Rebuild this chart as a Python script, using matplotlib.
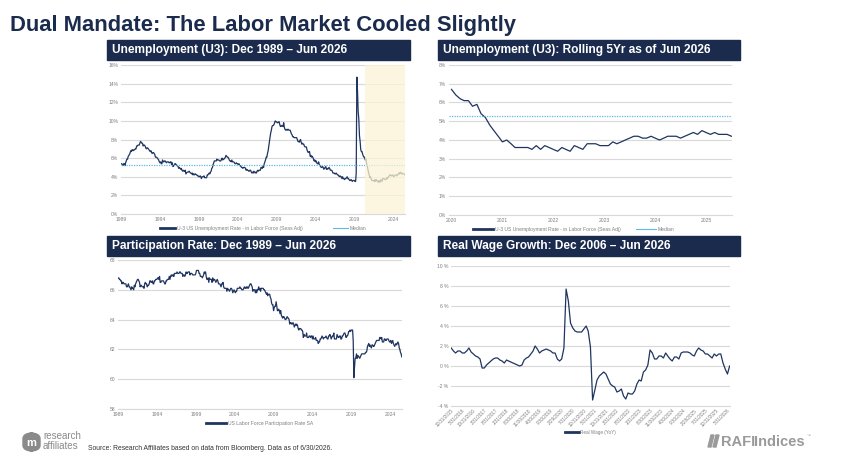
import matplotlib
matplotlib.use("Agg")
import matplotlib.pyplot as plt
from matplotlib.patches import Rectangle, FancyBboxPatch, Polygon
import numpy as np
import pandas as pd

# ---------------- data ----------------
# U-3 unemployment rate, monthly, Dec 1989 .. Jun 2026 (%)
u3_rate = [5.4,
    5.4, 5.3, 5.2, 5.4, 5.4, 5.2, 5.5, 5.7, 5.9, 5.9, 6.2, 6.3,   # 1990
    6.4, 6.6, 6.8, 6.7, 6.9, 6.9, 6.8, 6.9, 6.9, 7.0, 7.0, 7.3,   # 1991
    7.3, 7.4, 7.4, 7.4, 7.6, 7.8, 7.7, 7.6, 7.6, 7.3, 7.4, 7.4,   # 1992
    7.3, 7.1, 7.0, 7.1, 7.1, 7.0, 6.9, 6.8, 6.7, 6.8, 6.6, 6.5,   # 1993
    6.6, 6.6, 6.5, 6.4, 6.1, 6.1, 6.1, 6.0, 5.9, 5.8, 5.6, 5.5,   # 1994
    5.6, 5.4, 5.4, 5.8, 5.6, 5.6, 5.7, 5.7, 5.6, 5.5, 5.6, 5.6,   # 1995
    5.6, 5.5, 5.5, 5.6, 5.6, 5.3, 5.5, 5.1, 5.2, 5.2, 5.4, 5.4,   # 1996
    5.3, 5.2, 5.2, 5.1, 4.9, 5.0, 4.9, 4.8, 4.9, 4.7, 4.6, 4.7,   # 1997
    4.6, 4.6, 4.7, 4.3, 4.4, 4.5, 4.5, 4.5, 4.6, 4.5, 4.4, 4.4,   # 1998
    4.3, 4.4, 4.2, 4.3, 4.2, 4.3, 4.3, 4.2, 4.2, 4.1, 4.1, 4.0,   # 1999
    4.0, 4.1, 4.0, 3.8, 4.0, 4.0, 4.0, 4.1, 3.9, 3.9, 3.9, 3.9,   # 2000
    4.2, 4.2, 4.3, 4.4, 4.3, 4.5, 4.6, 4.9, 5.0, 5.3, 5.5, 5.7,   # 2001
    5.7, 5.7, 5.7, 5.9, 5.8, 5.8, 5.8, 5.7, 5.7, 5.7, 5.9, 6.0,   # 2002
    5.8, 5.9, 5.9, 6.0, 6.1, 6.3, 6.2, 6.1, 6.1, 6.0, 5.8, 5.7,   # 2003
    5.7, 5.6, 5.8, 5.6, 5.6, 5.6, 5.5, 5.4, 5.4, 5.5, 5.4, 5.4,   # 2004
    5.3, 5.4, 5.2, 5.2, 5.1, 5.0, 5.0, 4.9, 5.0, 5.0, 5.0, 4.9,   # 2005
    4.7, 4.8, 4.7, 4.7, 4.6, 4.6, 4.7, 4.7, 4.5, 4.4, 4.5, 4.4,   # 2006
    4.6, 4.5, 4.4, 4.5, 4.4, 4.6, 4.7, 4.6, 4.7, 4.7, 4.7, 5.0,   # 2007
    5.0, 4.9, 5.1, 5.0, 5.4, 5.6, 5.8, 6.1, 6.1, 6.5, 6.8, 7.3,   # 2008
    7.8, 8.3, 8.7, 9.0, 9.4, 9.5, 9.5, 9.6, 9.8, 10.0, 9.9, 9.9,  # 2009
    9.8, 9.8, 9.9, 9.9, 9.6, 9.4, 9.4, 9.5, 9.5, 9.4, 9.8, 9.3,   # 2010
    9.1, 9.0, 9.0, 9.1, 9.0, 9.1, 9.0, 9.0, 9.0, 8.8, 8.6, 8.5,   # 2011
    8.3, 8.3, 8.2, 8.2, 8.2, 8.2, 8.2, 8.0, 7.8, 7.8, 7.7, 7.9,   # 2012
    8.0, 7.7, 7.5, 7.6, 7.5, 7.5, 7.3, 7.2, 7.2, 7.2, 6.9, 6.7,   # 2013
    6.6, 6.7, 6.7, 6.2, 6.3, 6.1, 6.2, 6.1, 5.9, 5.7, 5.8, 5.6,   # 2014
    5.7, 5.5, 5.4, 5.4, 5.6, 5.3, 5.2, 5.1, 5.0, 5.0, 5.1, 5.0,   # 2015
    4.8, 4.9, 5.0, 5.1, 4.8, 4.9, 4.8, 4.9, 5.0, 4.9, 4.7, 4.7,   # 2016
    4.7, 4.6, 4.4, 4.4, 4.4, 4.3, 4.3, 4.4, 4.3, 4.2, 4.2, 4.1,   # 2017
    4.0, 4.1, 4.0, 4.0, 3.8, 4.0, 3.8, 3.8, 3.7, 3.8, 3.8, 3.9,   # 2018
    4.0, 3.8, 3.8, 3.7, 3.6, 3.6, 3.7, 3.6, 3.5, 3.6, 3.6, 3.6,   # 2019
    3.5, 3.5, 4.4, 14.7, 13.2, 11.0, 10.2, 8.4, 7.8, 6.9, 6.7, 6.7,  # 2020
    6.4, 6.2, 6.1, 6.1, 5.8, 5.9, 5.4, 5.2, 4.8, 4.5, 4.2, 3.9,   # 2021
    4.0, 3.8, 3.6, 3.6, 3.6, 3.6, 3.5, 3.7, 3.5, 3.7, 3.6, 3.5,   # 2022
    3.4, 3.6, 3.5, 3.4, 3.7, 3.6, 3.5, 3.8, 3.8, 3.8, 3.7, 3.7,   # 2023
    3.7, 3.9, 3.8, 3.9, 4.0, 4.1, 4.2, 4.2, 4.1, 4.1, 4.2, 4.1,   # 2024
    4.0, 4.1, 4.2, 4.2, 4.2, 4.1, 4.2, 4.3, 4.4, 4.3, 4.5, 4.4,   # 2025
    4.3, 4.4, 4.3, 4.3, 4.3, 4.2]                                # 2026
u3_median = 5.3
u3_start = "1989-12-01"
shade_start = "2021-05-01"
rolling_start = "2020-12-01"
u3_years = ["1989", "1994", "1999", "2004", "2009", "2014", "2019", "2024"]
rolling_years = ["2020", "2021", "2022", "2023", "2024", "2025"]
u3_yticks = [0, 2, 4, 6, 8, 10, 12, 14, 16]
rolling_yticks = [0, 1, 2, 3, 4, 5, 6, 7, 8]

# Labor force participation rate, monthly, Dec 1989 .. Jun 2026
lfpr = [66.8,
    66.8, 66.7, 66.7, 66.6, 66.6, 66.4, 66.5, 66.5, 66.4, 66.4, 66.4, 66.4,  # 1990
    66.2, 66.2, 66.3, 66.4, 66.2, 66.2, 66.1, 66.0, 66.2, 66.1, 66.1, 66.0,  # 1991
    66.3, 66.2, 66.4, 66.5, 66.6, 66.7, 66.7, 66.6, 66.5, 66.2, 66.3, 66.3,  # 1992
    66.2, 66.2, 66.2, 66.1, 66.4, 66.5, 66.4, 66.4, 66.2, 66.3, 66.3, 66.4,  # 1993
    66.6, 66.6, 66.5, 66.5, 66.6, 66.4, 66.4, 66.6, 66.6, 66.7, 66.7, 66.7,  # 1994
    66.8, 66.8, 66.7, 66.9, 66.5, 66.5, 66.6, 66.6, 66.6, 66.6, 66.5, 66.4,  # 1995
    66.4, 66.6, 66.6, 66.7, 66.7, 66.7, 66.9, 66.7, 66.9, 67.0, 66.9, 67.0,  # 1996
    67.0, 66.9, 67.1, 67.1, 67.1, 67.1, 67.2, 67.1, 67.1, 67.1, 67.2, 67.2,  # 1997
    67.1, 67.1, 67.1, 66.9, 67.0, 67.0, 66.9, 67.0, 67.2, 67.1, 67.1, 67.2,  # 1998
    67.2, 67.2, 67.0, 67.1, 67.1, 67.1, 67.0, 67.0, 67.0, 67.0, 67.0, 67.1,  # 1999
    67.3, 67.3, 67.3, 67.3, 67.1, 67.1, 66.9, 66.9, 66.9, 66.8, 66.9, 67.0,  # 2000
    67.2, 67.1, 67.2, 66.9, 66.7, 66.7, 66.8, 66.5, 66.8, 66.7, 66.7, 66.7,  # 2001
    66.5, 66.8, 66.6, 66.7, 66.7, 66.6, 66.5, 66.6, 66.7, 66.6, 66.4, 66.4,  # 2002
    66.4, 66.3, 66.2, 66.4, 66.4, 66.5, 66.2, 66.1, 66.1, 66.1, 66.1, 65.9,  # 2003
    66.1, 66.0, 66.0, 65.9, 66.0, 66.1, 66.1, 66.0, 65.8, 65.9, 66.0, 65.9,  # 2004
    65.8, 65.9, 65.9, 66.1, 66.1, 66.1, 66.1, 66.2, 66.1, 66.1, 66.0, 66.0,  # 2005
    66.0, 66.1, 66.2, 66.1, 66.1, 66.2, 66.1, 66.2, 66.1, 66.2, 66.3, 66.4,  # 2006
    66.4, 66.3, 66.2, 65.9, 66.0, 66.0, 66.0, 65.8, 66.0, 65.8, 66.0, 66.0,  # 2007
    66.2, 66.0, 66.1, 65.9, 66.1, 66.1, 66.1, 66.1, 66.0, 66.0, 65.9, 65.8,  # 2008
    65.7, 65.8, 65.6, 65.7, 65.7, 65.7, 65.5, 65.4, 65.1, 65.0, 65.0, 64.6,  # 2009
    64.8, 64.9, 64.9, 65.2, 64.9, 64.6, 64.6, 64.7, 64.6, 64.4, 64.6, 64.3,  # 2010
    64.2, 64.1, 64.2, 64.2, 64.1, 64.0, 64.0, 64.1, 64.2, 64.1, 64.1, 64.0,  # 2011
    63.7, 63.8, 63.8, 63.7, 63.7, 63.8, 63.7, 63.5, 63.6, 63.7, 63.6, 63.7,  # 2012
    63.6, 63.4, 63.3, 63.4, 63.4, 63.4, 63.3, 63.3, 63.2, 62.8, 63.0, 62.9,  # 2013
    62.9, 62.9, 63.1, 62.8, 62.8, 62.8, 62.9, 62.9, 62.8, 62.9, 62.9, 62.7,  # 2014
    62.9, 62.7, 62.7, 62.7, 62.8, 62.6, 62.6, 62.6, 62.4, 62.5, 62.5, 62.7,  # 2015
    62.7, 62.8, 62.9, 62.8, 62.7, 62.8, 62.8, 62.8, 62.9, 62.8, 62.7, 62.7,  # 2016
    62.9, 62.9, 63.0, 62.9, 62.7, 62.8, 62.9, 62.9, 63.1, 62.7, 62.7, 62.7,  # 2017
    62.7, 63.0, 62.9, 62.8, 62.8, 62.9, 62.9, 62.7, 62.7, 62.9, 62.9, 63.0,  # 2018
    63.1, 63.1, 63.0, 62.8, 62.9, 62.9, 63.0, 63.2, 63.2, 63.3, 63.2, 63.3,  # 2019
    63.3, 63.3, 62.6, 60.1, 60.8, 61.4, 61.4, 61.7, 61.4, 61.6, 61.5, 61.5,  # 2020
    61.4, 61.5, 61.6, 61.7, 61.7, 61.7, 61.7, 61.7, 61.7, 61.8, 61.8, 61.9,  # 2021
    62.2, 62.3, 62.4, 62.2, 62.3, 62.2, 62.1, 62.3, 62.3, 62.2, 62.2, 62.3,  # 2022
    62.4, 62.5, 62.6, 62.6, 62.6, 62.6, 62.6, 62.8, 62.8, 62.7, 62.8, 62.5,  # 2023
    62.5, 62.5, 62.7, 62.7, 62.6, 62.6, 62.7, 62.7, 62.7, 62.6, 62.5, 62.5,  # 2024
    62.6, 62.4, 62.5, 62.6, 62.4, 62.3, 62.2, 62.3, 62.4, 62.3, 62.4, 62.5,  # 2025
    62.4, 62.1, 62.0, 61.8, 61.7, 61.5]                                      # 2026
lfpr_yticks = [58, 60, 62, 64, 66, 68]

# Real wage growth YoY (%), monthly, Dec 2015 .. Jun 2026
real_wage_start = "2015-12-31"
real_wage = [1.8, 1.5, 1.3, 1.5, 1.5, 1.3, 1.3, 1.5, 1.8, 1.4,
             1.2, 1.0, 0.9, 0.7, -0.2, -0.2, 0.1, 0.3, 0.5, 0.7,
             0.8, 0.8, 0.6, 0.5, 0.3, 0.6, 0.5, 0.4, 0.3, 0.2,
             0.1, 0.0, 0.1, 0.6, 0.8, 0.9, 1.2, 1.5, 2.0, 1.7,
             1.3, 1.5, 1.6, 1.7, 1.6, 1.5, 1.3, 1.3, 0.7, 0.5,
             0.7, 1.8, 7.7, 6.5, 4.3, 3.8, 3.5, 3.4, 3.4, 3.4,
             3.7, 4.0, 3.5, 1.9, -3.4, -2.4, -1.4, -1.0, -0.8, -0.6,
             -0.8, -1.3, -1.8, -2.0, -2.1, -2.6, -2.5, -2.3, -3.0, -3.3,
             -2.7, -2.8, -2.8, -2.5, -1.8, -1.4, -1.5, -0.6, -0.4, 0.1,
             1.6, 1.3, 0.7, 0.7, 1.0, 1.0, 0.8, 1.3, 1.0, 0.7,
             0.5, 0.9, 0.9, 0.7, 1.3, 1.4, 1.4, 1.4, 1.3, 1.1,
             1.0, 1.5, 1.8, 1.6, 1.5, 1.2, 1.2, 1.0, 0.8, 1.2,
             1.0, 1.2, 1.2, 0.3, -0.3, -0.8, 0.0]
real_wage_yticks = [-4, -2, 0, 2, 4, 6, 8, 10]

title = "Dual Mandate: The Labor Market Cooled Slightly"
panel_titles = ["Unemployment (U3): Dec 1989 \u2013 Jun 2026",
                "Unemployment (U3): Rolling 5Yr as of Jun 2026",
                "Participation Rate: Dec 1989 \u2013 Jun 2026",
                "Real Wage Growth: Dec 2006 \u2013 Jun 2026"]
legend_u3 = "U-3 US Unemployment Rate - in Labor Force (Seas Adj)"
legend_median = "Median"
legend_lfpr = "US Labor Force Participation Rate SA"
legend_wage = "Real Wage (YoY)"
source = "Source: Research Affiliates based on data from Bloomberg. Data as of 6/30/2026."

# ---------------- style ----------------
W, H = 846, 470
NAVY = "#1b2b4d"
LINE = "#1f3560"
GRID = "#d9d9d9"
TICKC = "#7f7f7f"
MEDC = "#5cbbe6"
SHADE = "#fcf4d6"
SANS = ["Liberation Sans", "DejaVu Sans"]
plt.rcParams["font.family"] = SANS

fig = plt.figure(figsize=(W / 100, H / 100), dpi=100)
fig.patch.set_facecolor("white")


def fx(px):
    return px / W


def fy(py):
    return 1 - py / H


def add_ax(l, t, r, b):
    return fig.add_axes([fx(l), fy(b), fx(r - l), (b - t) / H])


def style(ax):
    for s in ["top", "right", "left"]:
        ax.spines[s].set_visible(False)
    ax.spines["bottom"].set_color(GRID)
    ax.spines["bottom"].set_linewidth(0.8)
    ax.grid(axis="y", color=GRID, linewidth=0.8)
    ax.set_axisbelow(True)
    ax.tick_params(axis="both", length=0, labelsize=3.6, labelcolor=TICKC, pad=2)
    ax.set_facecolor("none")


def header(l, t, r, b, text):
    fig.patches.append(Rectangle((fx(l), fy(b)), fx(r - l), (b - t) / H,
                                 transform=fig.transFigure, color=NAVY, zorder=0))
    fig.text(fx(l + 5), fy((t + b) / 2 + 0.5), text, color="white", fontsize=8.6,
             fontweight="bold", va="center", ha="left")


fig.text(fx(10), fy(25), title, color=NAVY, fontsize=15.8, fontweight="bold",
         va="center", ha="left")

header(107, 40, 410, 60, panel_titles[0])
header(438, 40, 740, 60, panel_titles[1])
header(107, 236, 410, 256, panel_titles[2])
header(438, 236, 740, 256, panel_titles[3])

# ---- panel 1: U3 full history ----
u3_dates = pd.date_range(u3_start, periods=len(u3_rate), freq="MS")
ax1 = add_ax(121, 65, 405, 214)
style(ax1)
ax1.plot(u3_dates, u3_rate, color=LINE, linewidth=0.9, zorder=2)
ax1.axhline(u3_median, color=MEDC, linewidth=0.9, linestyle=(0, (1, 1)), zorder=2)
ax1.axvspan(pd.Timestamp(shade_start), u3_dates[-1] + pd.Timedelta(days=15),
            color=SHADE, alpha=0.75, zorder=3, linewidth=0)
ax1.set_xlim(u3_dates[0] - pd.Timedelta(days=5), u3_dates[-1] + pd.Timedelta(days=10))
ax1.set_ylim(0, 16)
ax1.set_yticks(u3_yticks)
ax1.set_yticklabels([f"{v}%" for v in u3_yticks])
tick_dates = [pd.Timestamp(f"{y}-12-01") for y in u3_years]
ax1.set_xticks(tick_dates)
ax1.set_xticklabels(u3_years)
h1, = ax1.plot([], [], color=LINE, linewidth=2.0)
h2, = ax1.plot([], [], color=MEDC, linewidth=0.8)
ax1.legend([h1, h2], [legend_u3, legend_median], loc="upper center",
           bbox_to_anchor=(0.5, -0.05), ncol=2, frameon=False, fontsize=3.6,
           labelcolor=TICKC, handlelength=3, columnspacing=6, handletextpad=0.4)

# ---- panel 2: rolling 5 yr ----
mask = u3_dates >= pd.Timestamp(rolling_start)
r_dates = u3_dates[mask]
r_vals = np.array(u3_rate)[mask]
ax2 = add_ax(449, 65, 732, 215)
style(ax2)
ax2.plot(r_dates, r_vals, color=LINE, linewidth=0.9, zorder=2)
ax2.axhline(u3_median, color=MEDC, linewidth=0.9, linestyle=(0, (1, 1)), zorder=2)
ax2.set_xlim(r_dates[0] - pd.Timedelta(days=18), r_dates[-1] + pd.Timedelta(days=4))
ax2.set_ylim(0, 8)
ax2.set_yticks(rolling_yticks)
ax2.set_yticklabels([f"{v}%" for v in rolling_yticks])
ax2.set_xticks([pd.Timestamp(f"{y}-12-01") for y in rolling_years])
ax2.set_xticklabels(rolling_years)
h3, = ax2.plot([], [], color=LINE, linewidth=2.0)
h4, = ax2.plot([], [], color=MEDC, linewidth=0.8)
ax2.legend([h3, h4], [legend_u3, legend_median], loc="upper center",
           bbox_to_anchor=(0.44, -0.05), ncol=2, frameon=False, fontsize=3.6,
           labelcolor=TICKC, handlelength=4, columnspacing=3, handletextpad=0.4)

# ---- panel 3: participation ----
l_dates = pd.date_range(u3_start, periods=len(lfpr), freq="MS")
ax3 = add_ax(118, 260, 402, 409)
style(ax3)
ax3.plot(l_dates, lfpr, color=LINE, linewidth=0.9, zorder=2)
ax3.set_xlim(l_dates[0] - pd.Timedelta(days=5), l_dates[-1] + pd.Timedelta(days=10))
ax3.set_ylim(58, 68)
ax3.set_yticks(lfpr_yticks)
ax3.set_yticklabels([f"{v}" for v in lfpr_yticks])
ax3.set_xticks(tick_dates)
ax3.set_xticklabels(u3_years)
h5, = ax3.plot([], [], color=LINE, linewidth=2.0)
ax3.legend([h5], [legend_lfpr], loc="upper center", bbox_to_anchor=(0.5, -0.05),
           frameon=False, fontsize=3.6, labelcolor=TICKC, handlelength=4,
           handletextpad=0.4)

# ---- panel 4: real wage ----
w_dates = pd.date_range(real_wage_start, periods=len(real_wage), freq="ME")
ax4 = add_ax(451, 266, 730, 406)
style(ax4)
ax4.plot(w_dates, real_wage, color=LINE, linewidth=0.9, zorder=2)
ax4.set_xlim(w_dates[0] - pd.Timedelta(days=3), w_dates[-1] + pd.Timedelta(days=5))
ax4.set_ylim(-4, 10)
ax4.set_yticks(real_wage_yticks)
ax4.set_yticklabels([f"{v} %" for v in real_wage_yticks])
wt = w_dates[::5]
ax4.set_xticks(wt)
ax4.set_xticklabels([f"{d.month}/{d.day}/{d.year}" for d in wt], rotation=45,
                    ha="right", rotation_mode="anchor")
ax4.tick_params(axis="x", labelsize=3.3, pad=1.5)
h6, = ax4.plot([], [], color=LINE, linewidth=2.0)
ax4.legend([h6], [legend_wage], loc="upper center", bbox_to_anchor=(0.5, -0.14),
           frameon=False, fontsize=3.3, labelcolor=TICKC, handlelength=3,
           handletextpad=0.4)

# ---- footer ----
fig.patches.append(FancyBboxPatch((fx(23), fy(451)), fx(17), 18 / H,
                                  boxstyle="round,pad=0,rounding_size=0.012",
                                  transform=fig.transFigure, color="#8a8a8a",
                                  zorder=1))
fig.text(fx(31.5), fy(442.5), "m", color="white", fontsize=8, fontweight="bold",
         ha="center", va="center")
fig.text(fx(43), fy(436), "research", color="#8a8a8a", fontsize=7, ha="left",
         va="center")
fig.text(fx(43), fy(446), "affiliates", color="#8a8a8a", fontsize=7, ha="left",
         va="center")
fig.text(fx(88), fy(449), source, color="#333333", fontsize=4.9, ha="left",
         va="center")

for dx in (0, 5):
    fig.patches.append(Polygon([(fx(708 + dx), fy(447)), (fx(711 + dx), fy(447)),
                                (fx(714 + dx), fy(435)), (fx(711 + dx), fy(435))],
                               closed=True, transform=fig.transFigure,
                               color="#9a9a9a", zorder=1))
fig.text(fx(721), fy(441.5), "RAFI", color="#9a9a9a", fontsize=10.5,
         fontweight="bold", ha="left", va="center")
fig.text(fx(754), fy(441.5), "Indices", color="#9a9a9a", fontsize=10.5,
         fontweight="bold", ha="left", va="center")
fig.text(fx(807), fy(436), "\u2122", color="#9a9a9a", fontsize=3, ha="left",
         va="center")

fig.savefig("out.png", dpi=100, facecolor="white")
